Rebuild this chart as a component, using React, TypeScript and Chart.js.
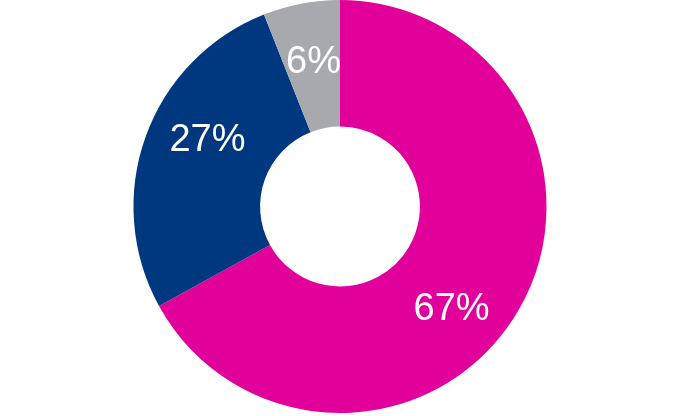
import React, { useEffect, useRef } from "react";
import { Chart, registerables } from "chart.js";

Chart.register(...registerables);

const categories = ["A", "B", "C"];
const values = [67, 27, 6];
const labels = ["67%", "27%", "6%"];
const colors = ["#E2009A", "#00387F", "#A7A9AE"];
// label placement tweaks (degrees offset from arc midpoint, fraction of outer radius)
const labelAngleOffsets = [12, 6.5, 0.4];
const labelRadiusFractions = [0.734, 0.716, 0.709];

const labelPlugin = {
  id: "sliceLabels",
  afterDatasetsDraw(chart: any) {
    const { ctx } = chart;
    const meta = chart.getDatasetMeta(0);
    ctx.save();
    ctx.fillStyle = "#ffffff";
    ctx.font = "38px 'Liberation Sans', Arial, sans-serif";
    ctx.textAlign = "center";
    ctx.textBaseline = "middle";
    meta.data.forEach((arc: any, i: number) => {
      const p = arc.getProps(["x", "y", "startAngle", "endAngle", "outerRadius"], true);
      const mid = (p.startAngle + p.endAngle) / 2 + (labelAngleOffsets[i] * Math.PI) / 180;
      const r = p.outerRadius * labelRadiusFractions[i];
      ctx.fillText(labels[i], p.x + Math.cos(mid) * r, p.y + Math.sin(mid) * r);
    });
    ctx.restore();
  },
};

export default function App() {
  const ref = useRef<HTMLCanvasElement | null>(null);
  useEffect(() => {
    document.body.style.margin = "0";
    const chart = new Chart(ref.current as HTMLCanvasElement, {
      type: "doughnut",
      data: {
        labels: categories,
        datasets: [
          {
            data: values,
            backgroundColor: colors,
            borderWidth: 0,
          },
        ],
      },
      options: {
        animation: false,
        responsive: false,
        cutout: "38.7%",
        layout: { padding: { top: 0, bottom: 3, left: 0, right: 0 } },
        plugins: {
          legend: { display: false },
          tooltip: { enabled: false },
        },
      },
      plugins: [labelPlugin],
    });
    return () => chart.destroy();
  }, []);
  return (
    <div style={{ position: "absolute", left: 0, top: 0, width: 680, height: 416 }}>
      <canvas ref={ref} width={680} height={416} />
    </div>
  );
}
